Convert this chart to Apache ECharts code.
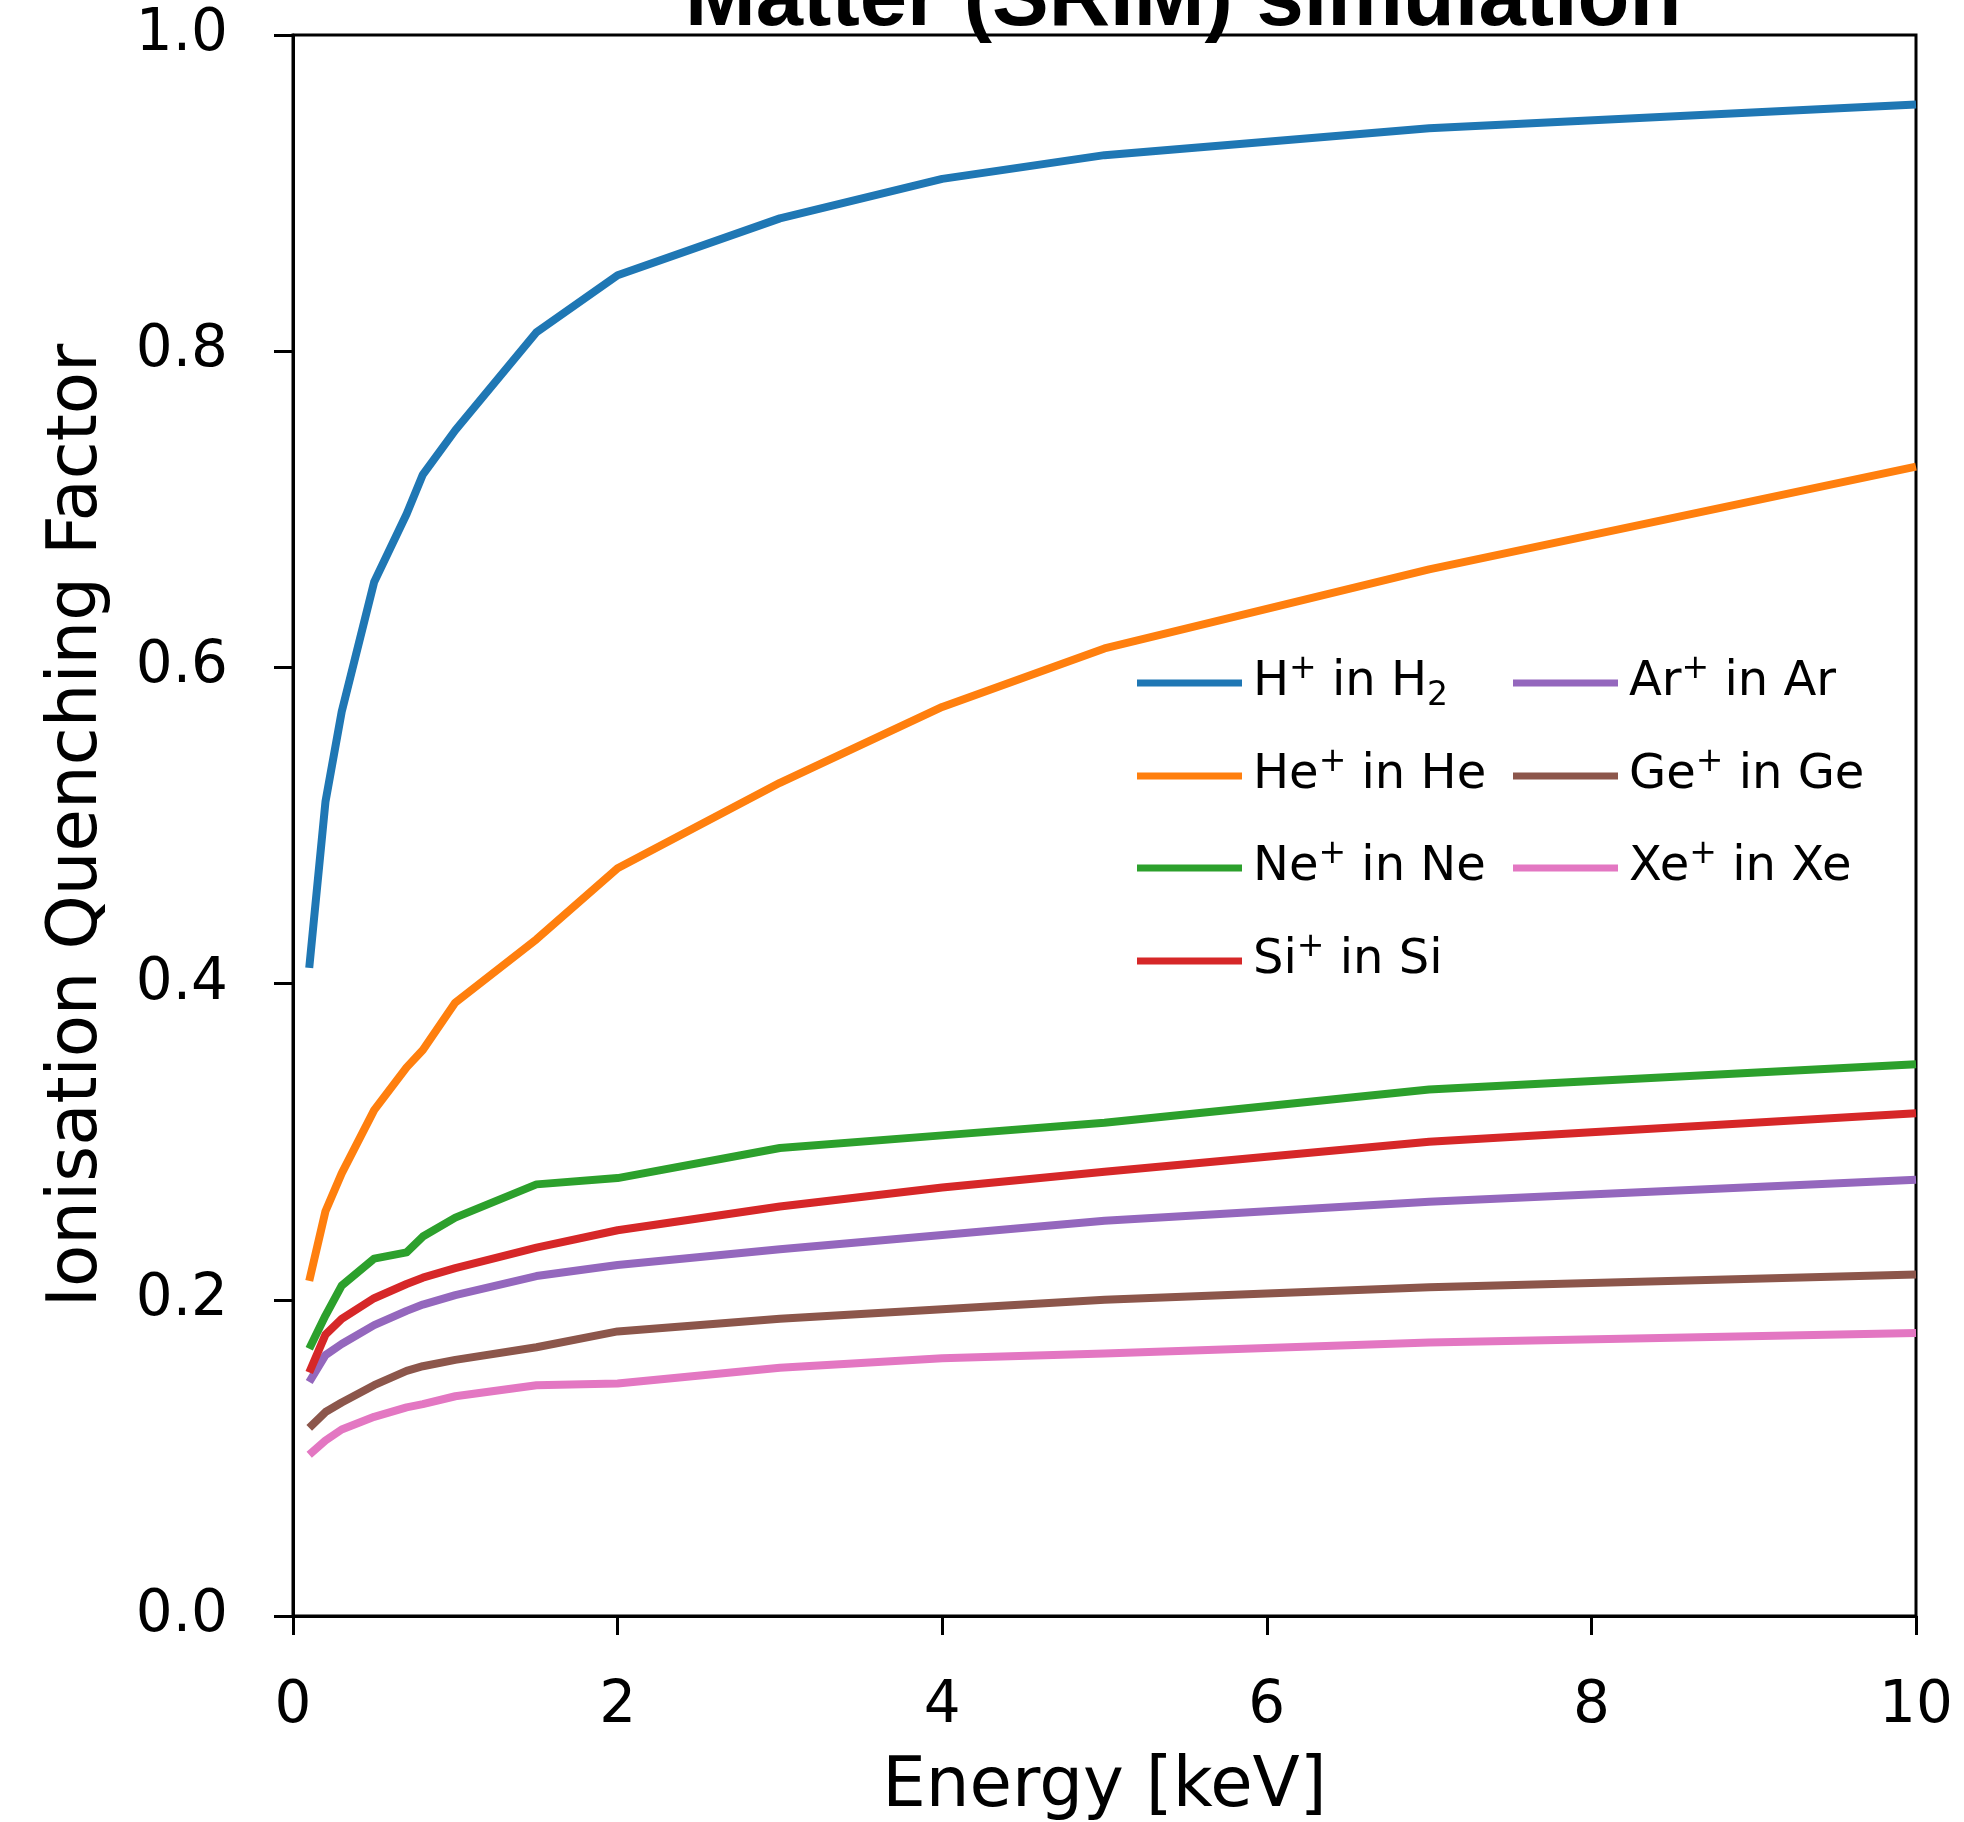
<!DOCTYPE html>
<html>
<head>
<meta charset="utf-8">
<script src="https://cdn.jsdelivr.net/npm/echarts@6/dist/echarts.min.js"></script>
<style>
html,body{margin:0;padding:0;background:#fff;}
#chart{width:1964px;height:1822px;}
</style>
</head>
<body>
<div id="chart"></div>
<script>
// Energy sample points [keV]
const energies = [0.1, 0.2, 0.3, 0.5, 0.7, 0.8, 1, 1.5, 2, 3, 4, 5, 7, 10];

// Ionisation quenching factor per ion/target
const qH  = [0.410, 0.515, 0.572, 0.654, 0.697, 0.722, 0.750, 0.812, 0.848, 0.884, 0.909, 0.924, 0.941, 0.956];
const qHe = [0.212, 0.256, 0.280, 0.320, 0.347, 0.358, 0.388, 0.428, 0.473, 0.527, 0.575, 0.612, 0.662, 0.727];
const qNe = [0.169, 0.190, 0.209, 0.226, 0.230, 0.240, 0.252, 0.273, 0.277, 0.296, 0.304, 0.312, 0.333, 0.349];
const qSi = [0.154, 0.178, 0.188, 0.201, 0.210, 0.214, 0.220, 0.233, 0.244, 0.259, 0.271, 0.281, 0.300, 0.318];
const qAr = [0.148, 0.165, 0.172, 0.184, 0.193, 0.197, 0.203, 0.215, 0.222, 0.232, 0.241, 0.250, 0.262, 0.276];
const qGe = [0.119, 0.129, 0.135, 0.146, 0.155, 0.158, 0.162, 0.170, 0.180, 0.188, 0.194, 0.200, 0.208, 0.216];
const qXe = [0.102, 0.111, 0.118, 0.126, 0.132, 0.134, 0.139, 0.146, 0.147, 0.157, 0.163, 0.166, 0.173, 0.179];

const ions      = ['H', 'He', 'Ne', 'Si', 'Ar', 'Ge', 'Xe'];
const targets   = ['H', 'He', 'Ne', 'Si', 'Ar', 'Ge', 'Xe'];
const targetSub = ['2', '', '', '', '', '', ''];
const seriesNames = ['H⁺ in H₂', 'He⁺ in He', 'Ne⁺ in Ne', 'Si⁺ in Si', 'Ar⁺ in Ar', 'Ge⁺ in Ge', 'Xe⁺ in Xe'];
const seriesValues = [qH, qHe, qNe, qSi, qAr, qGe, qXe];
const colors = ['#1f77b4', '#ff7f0e', '#2ca02c', '#d62728', '#9467bd', '#8c564b', '#e377c2'];

const xTicks = [0, 2, 4, 6, 8, 10];
const yTicks = [0.0, 0.2, 0.4, 0.6, 0.8, 1.0];
const titleText = 'Matter (SRIM) simulation';
const xTitle = 'Energy [keV]';
const yTitle = 'Ionisation Quenching Factor';

const FONT = 'DejaVu Sans';

// legend layout: two columns (column-major), row centres in px
const legendColLeft = [1137, 1513];
const legendRowCenter = [683, 776, 868, 961];
const ROW_H = 60;

function legendLabel(name) {
  const i = seriesNames.indexOf(name);
  let s = '{sp|}{n|' + ions[i] + '}{sup|+}{n| in ' + targets[i] + '}';
  if (targetSub[i]) s += '{sub|' + targetSub[i] + '}';
  return s;
}

const legendText = {
  fontFamily: FONT,
  fontSize: 48,
  color: '#000',
  rich: {
    sp: { width: 6, height: ROW_H, lineHeight: ROW_H },
    n: { fontFamily: FONT, fontSize: 48, height: ROW_H, lineHeight: ROW_H, color: '#000' },
    sup: { fontFamily: FONT, fontSize: 33, lineHeight: 34, verticalAlign: 'top', color: '#000' },
    sub: { fontFamily: FONT, fontSize: 33, lineHeight: 36, verticalAlign: 'bottom', color: '#000' }
  }
};

const legends = seriesNames.map((name, i) => {
  const col = i < 4 ? 0 : 1;
  const row = i < 4 ? i : i - 4;
  return {
    data: [name],
    orient: 'vertical',
    left: legendColLeft[col],
    top: legendRowCenter[row] - ROW_H / 2,
    padding: 0,
    itemWidth: 105, itemHeight: 7,
    icon: 'rect',
    formatter: legendLabel,
    textStyle: legendText,
    selectedMode: false
  };
});

const series = seriesNames.map((name, i) => ({
  name: name,
  type: 'line',
  data: energies.map((e, j) => [e, seriesValues[i][j]]),
  showSymbol: false,
  symbol: 'none',
  lineStyle: { width: 8, color: colors[i], cap: 'butt', join: 'round' },
  itemStyle: { color: colors[i] },
  z: 10 - i
}));

const chart = echarts.init(document.getElementById('chart'), null, { renderer: 'canvas' });
chart.setOption({
  animation: false,
  backgroundColor: '#fff',
  title: {
    text: titleText,
    left: 680,
    top: -46,
    textStyle: { fontFamily: 'Liberation Sans', fontWeight: 'bold', fontSize: 85, lineHeight: 85, color: '#000' }
  },
  grid: {
    left: 293, right: 48, top: 35, bottom: 206,
    outerBoundsMode: 'none',
    containLabel: false,
    show: true, borderColor: '#000', borderWidth: 3, backgroundColor: 'transparent'
  },
  legend: legends,
  xAxis: {
    type: 'value',
    min: xTicks[0], max: xTicks[xTicks.length - 1], interval: 2,
    name: xTitle, nameLocation: 'middle', nameGap: 138,
    nameTextStyle: { fontFamily: FONT, fontSize: 69, color: '#000' },
    axisLine: { show: true, lineStyle: { color: '#000', width: 3 } },
    axisTick: { show: true, length: 19, lineStyle: { color: '#000', width: 3 } },
    axisLabel: { fontFamily: FONT, fontSize: 58, color: '#000', margin: 62,
      formatter: v => String(v) },
    splitLine: { show: false }
  },
  yAxis: {
    type: 'value',
    min: yTicks[0], max: yTicks[yTicks.length - 1], interval: 0.2,
    name: yTitle, nameLocation: 'middle', nameGap: 180, nameRotate: 90,
    nameTextStyle: { fontFamily: FONT, fontSize: 69, color: '#000' },
    axisLine: { show: true, lineStyle: { color: '#000', width: 3 } },
    axisTick: { show: true, length: 19, lineStyle: { color: '#000', width: 3 } },
    axisLabel: { fontFamily: FONT, fontSize: 58, color: '#000', margin: 65,
      formatter: v => v.toFixed(1) },
    splitLine: { show: false }
  },
  series: series
});
</script>
</body>
</html>
